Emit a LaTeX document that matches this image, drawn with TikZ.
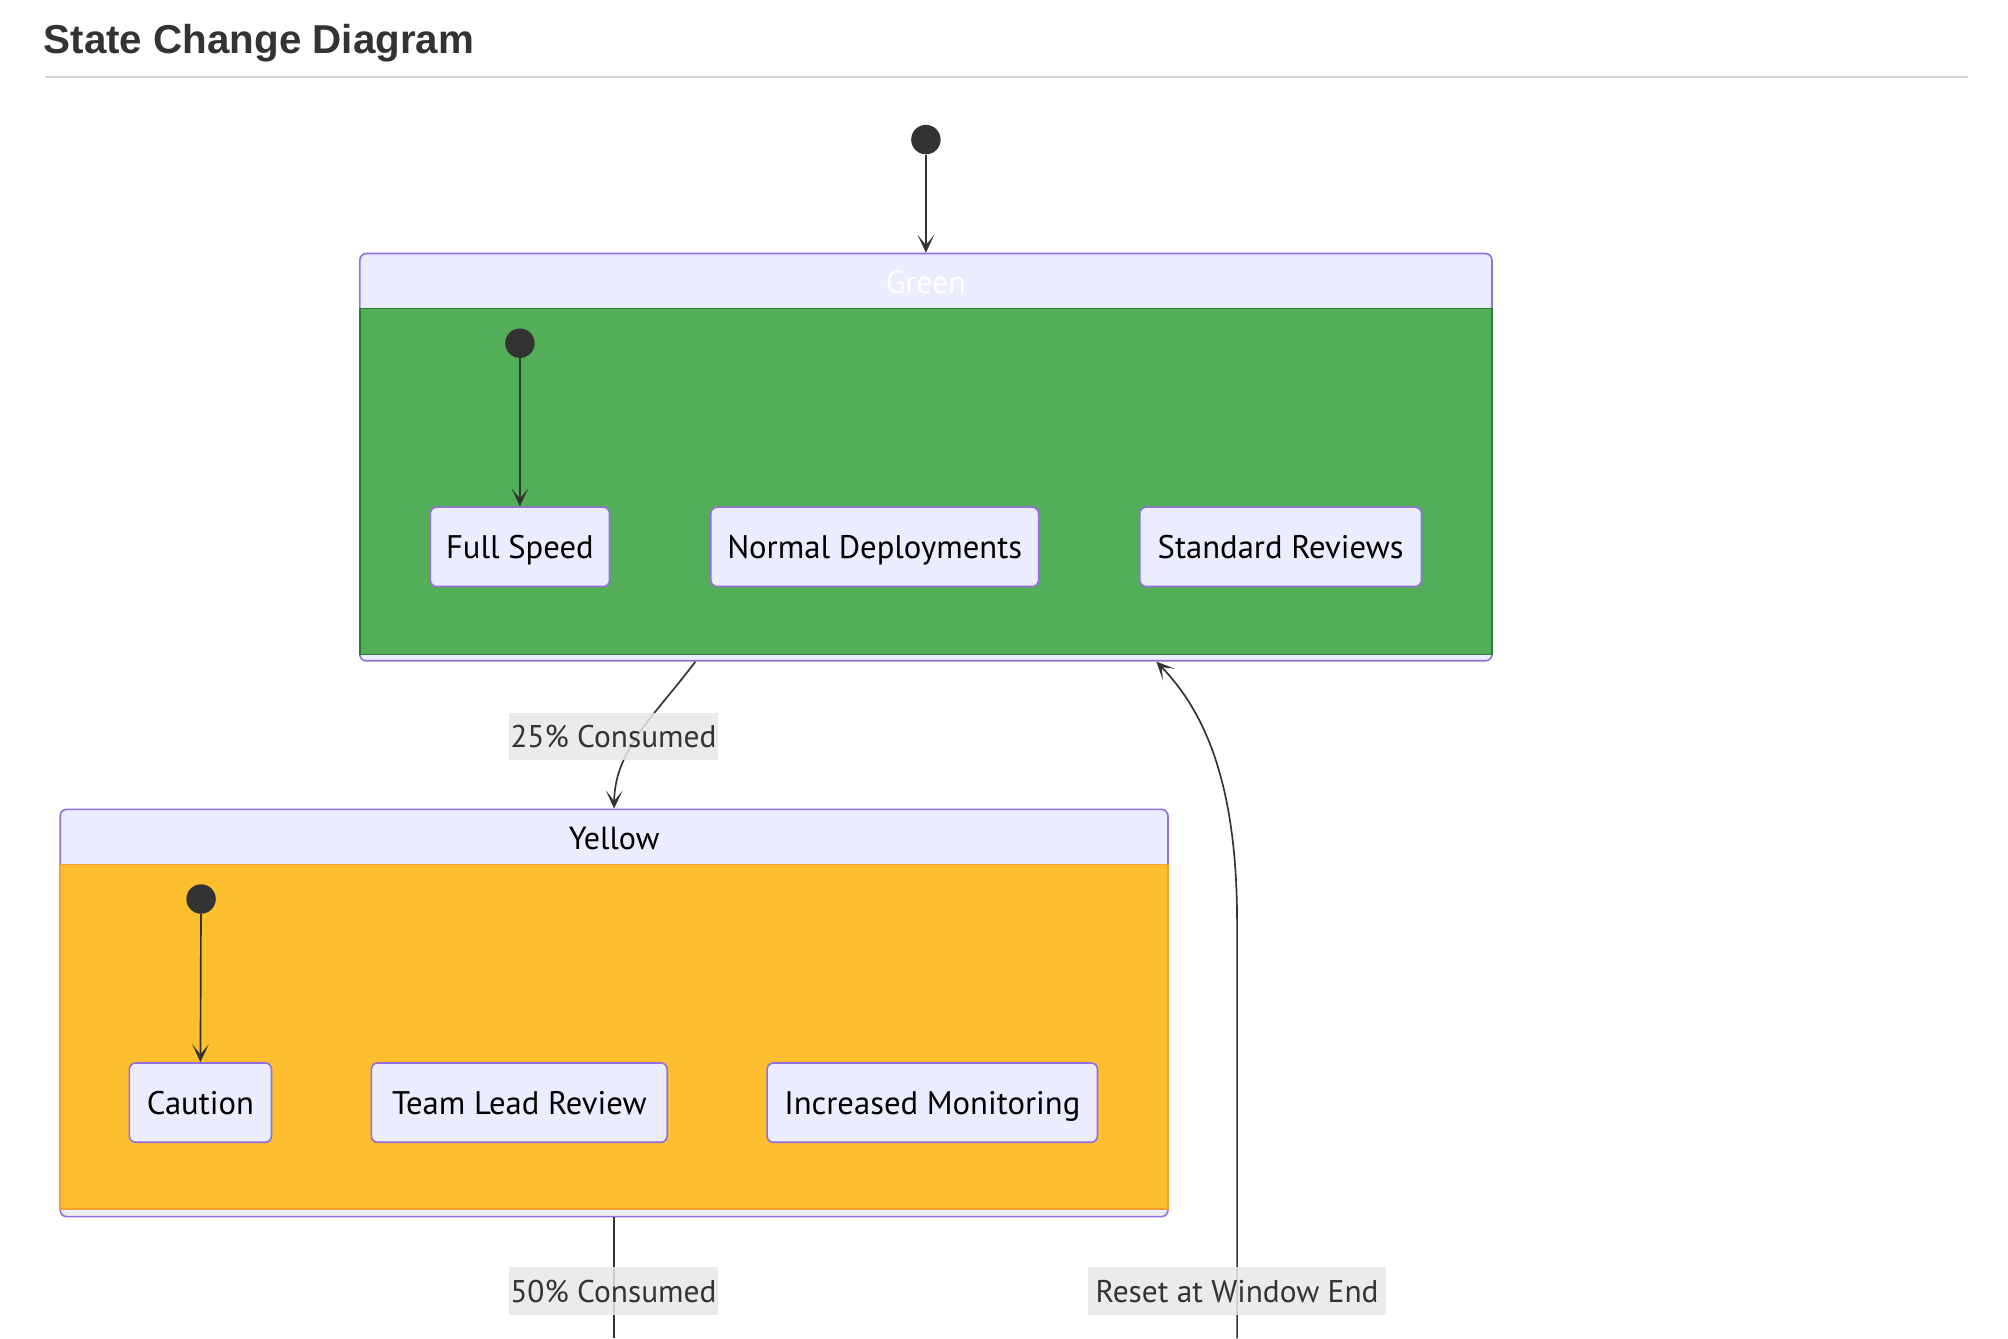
\documentclass[tikz,border=0pt]{standalone}
\usepackage{fontspec}
\setmainfont{PT Sans}
\newfontfamily\headfont{Liberation Sans}
\usetikzlibrary{arrows.meta,positioning}

\definecolor{lav}{HTML}{ECECFF}
\definecolor{lavline}{HTML}{9370DB}
\definecolor{ink}{HTML}{333333}
\definecolor{grfill}{HTML}{52AF58}
\definecolor{grline}{HTML}{2E7D32}
\definecolor{yefill}{HTML}{FDBF2F}
\definecolor{yeline}{HTML}{F5A030}
\definecolor{lblbg}{HTML}{E8E8E8}
\definecolor{rulegray}{HTML}{D6D6D6}

\tikzset{
  substate/.style={draw=lavline, line width=1.3pt, fill=lav, rounded corners=5pt,
    minimum height=62pt, inner sep=0pt, text height=21pt, text depth=3pt,
    text=black, font=\fontsize{25.5}{30}\selectfont},
  startdot/.style={circle, fill=ink, minimum size=23pt, inner sep=0pt},
  trans/.style={draw=ink, line width=1.3pt, -{Stealth[length=14pt,width=13pt,inset=8pt]}},
  edgelbl/.style={fill=lblbg, fill opacity=0.85, text opacity=1, text=ink,
    minimum height=37pt, inner xsep=1pt, text height=21pt, text depth=3pt,
    font=\fontsize{24.5}{29}\selectfont},
  compbox/.style={draw=lavline, line width=1.3pt, fill=lav, rounded corners=5pt},
  comptitle/.style={text height=21pt, text depth=3pt, font=\fontsize{25}{30}\selectfont},
}

\begin{document}
\begin{tikzpicture}[x=1pt,y=-1pt]
\useasboundingbox[fill=white] (0,0) rectangle (1568,1045);

% heading
\node[anchor=base west, text=ink, font=\headfont\bfseries\fontsize{31.5}{36}\selectfont, inner sep=0pt] (title) at (34,42) {State Change Diagram};
\draw[rulegray, line width=1.5pt] (35,60) -- (1537,60);

% Green
\node[compbox, minimum width=884pt, minimum height=318pt] (green) at (723,357) {};
\fill[grfill] (281,241) rectangle (1165,511);
\draw[grline, line width=1.3pt] (281,241) rectangle (1165,511);
\node[comptitle, text=white] (greentitle) at (723,220) {Green};
\node[startdot] (gstart) at (406,268) {};
\node[substate, minimum width=140pt] (fullspeed) at (406,427) {Full Speed};
\node[substate, minimum width=256pt] (normaldeploy) at (683,427) {Normal Deployments};
\node[substate, minimum width=220pt] (stdreviews) at (1000,427) {Standard Reviews};

% Yellow
\node[compbox, minimum width=865pt, minimum height=318pt] (yellow) at (479.5,791) {};
\fill[yefill] (47,675) rectangle (912,944);
\draw[yeline, line width=1.3pt] (47,675) rectangle (912,944);
\node[comptitle, text=black] (yellowtitle) at (479.5,654) {Yellow};
\node[startdot] (ystart) at (157,702) {};
\node[substate, minimum width=111pt] (caution) at (156.5,861) {Caution};
\node[substate, minimum width=231pt] (teamlead) at (405.5,861) {Team Lead Review};
\node[substate, minimum width=258pt] (monitoring) at (728,861) {Increased Monitoring};

% transitions
\node[startdot] (start) at (723,109) {};
\draw[trans] (start) -- (green.north);
\draw[trans] (gstart) -- (fullspeed.north);
\draw[trans] (ystart) -- (caution.north);

\draw[trans] ([xshift=-180pt]green.south) .. controls (512,558) and (480,585) .. (yellow.north);
\node[edgelbl] (lbl25) at (479,575) {25\% Consumed};

\coordinate (yout) at (479.5,1045);
\draw[ink, line width=1.3pt] (yellow.south) -- (yout);
\node[edgelbl] (lbl50) at (479,1008) {50\% Consumed};

\coordinate (resetin) at (966,1045);
\draw[trans] (resetin) -- (966,720) .. controls (966,610) and (940,555) .. ([xshift=180pt]green.south);
\node[edgelbl, inner xsep=6pt] (lblreset) at (966,1008) {Reset at Window End};
\end{tikzpicture}
\end{document}
